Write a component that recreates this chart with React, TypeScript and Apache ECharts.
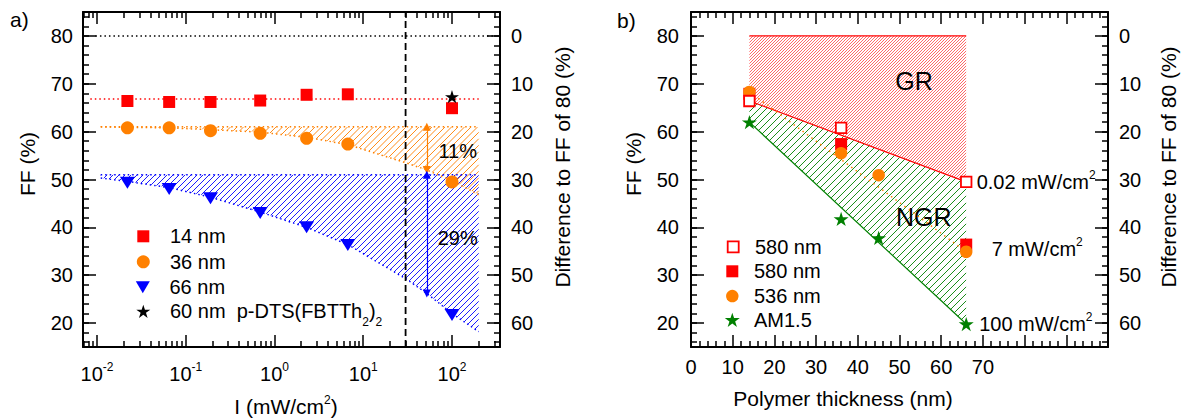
import React, { useEffect, useRef } from 'react';
import * as echarts from 'echarts';

const FONT = 'Liberation Sans';
const RED = '#ff0000';
const ORANGE = '#ff8000';
const BLUE = '#0000ff';
const GREEN = '#008000';

// ---------- panel a: fill factor vs. light intensity ----------
const intensity = [0.022, 0.065, 0.19, 0.69, 2.3, 6.7, 100];
const ff14nm = [66.4, 66.2, 66.2, 66.5, 67.7, 67.8, 64.9];
const ff36nm = [60.8, 60.8, 60.2, 59.65, 58.6, 57.4, 49.5];
const ff66nm = [49.3, 48.0, 46.1, 43.0, 40.0, 36.3, 21.7];
const smallMoleculeI = [100];
const smallMoleculeFF = [67.3];

// dotted trend curves bounding the hatched losses
const trendI = [0.011, 0.022, 0.065, 0.19, 0.69, 2.3, 6.7, 30, 52, 100, 200];
const trend36nm = [61.0, 60.9, 60.8, 60.4, 59.9, 58.8, 57.3, 53.5, 52.0, 49.7, 46.8];
const trend66nm = [50.3, 49.6, 48.3, 46.3, 43.2, 40.0, 36.4, 29.3, 26.2, 22.0, 18.2];

const ffLimit = 80;
const level14nm = 66.8;
const level36nm = 61;
const level66nm = 51;
const iThreshold = 30;
const iArrow = 52;
const arrowLow36nm = 52.0;
const arrowLow66nm = 26.2;

// ---------- panel b: fill factor vs. polymer thickness ----------
const thickness = [14, 36, 66];
const ff580Low = [66.4, 60.8, 49.5]; // 580 nm, 0.02 mW/cm²
const ff580Mid = [67.9, 57.4, 36.4]; // 580 nm, 7 mW/cm²
const thickness4 = [14, 36, 45, 66];
const ff536 = [68.3, 55.5, 50.9, 34.9];
const ffAM15 = [62.0, 41.75, 37.8, 19.8];

// axis extents
const I_MIN = Math.pow(10, -2.158);
const I_MAX = Math.pow(10, 2.541);
const FF_MIN = 15;
const FF_MAX = 85;
const T_MIN = 0;
const T_MAX = 100;

// plot frame geometry (pixels)
const LEFT_A = 83;
const LEFT_B = 691;
const TOP = 12;
const GRID_W = 417;
const GRID_H = 335;
const PX_PER_DECADE = GRID_W / (Math.log10(I_MAX) - Math.log10(I_MIN));
const PX_PER_FF = GRID_H / (FF_MAX - FF_MIN);

const STAR = 'path://M50,0L61.2,34.5L97.6,34.5L68.2,55.9L79.4,90.5L50,69.1L20.6,90.5L31.8,55.9L2.4,34.5L38.8,34.5Z';
const TRI_DOWN = 'path://M0,0L14,0L7,12Z';

const pairs = (xs: number[], ys: number[]) => xs.map((x, i) => [x, ys[i]]);

type Pt = number[];

function interpAt(pts: Pt[], px: number): number {
  const n = pts.length;
  for (let i = 1; i < n; i++) {
    if (px <= pts[i][0] + 1e-9) {
      const [x0, y0] = pts[i - 1];
      const [x1, y1] = pts[i];
      const t = x1 === x0 ? 0 : (px - x0) / (x1 - x0);
      return y0 + t * (y1 - y0);
    }
  }
  return pts[n - 1][1];
}

// diagonal "/" hatch segments between a top and a bottom pixel boundary
function hatchLines(top: Pt[], bottom: Pt[], spacing: number): number[][] {
  const x0 = Math.max(top[0][0], bottom[0][0]);
  const x1 = Math.min(top[top.length - 1][0], bottom[bottom.length - 1][0]);
  const sums = [...top, ...bottom].map((p) => p[0] + p[1]);
  const cMin = Math.floor(Math.min(...sums) / spacing) * spacing;
  const cMax = Math.max(...sums);
  const step = 0.25;
  const segs: number[][] = [];
  for (let c = cMin; c <= cMax; c += spacing) {
    let run: number[] | null = null;
    for (let px = x0; px <= x1 + 1e-9; px += step) {
      const y = c - px;
      const yt = interpAt(top, px);
      const yb = interpAt(bottom, px);
      if (y >= yt && y <= yb) {
        if (run) {
          run[2] = px;
          run[3] = y;
        } else run = [px, y, px, y];
      } else if (run) {
        segs.push(run);
        run = null;
      }
    }
    if (run) segs.push(run);
  }
  return segs.filter((s) => Math.abs(s[2] - s[0]) > 0.3);
}

type Hatch = { top: Pt[]; bottom: Pt[]; spacing: number; color: string; width: number };
type Note = { at: number[]; text: string; size: number; align: string };

const SUP_RICH = {
  n: { fontFamily: FONT, fontSize: 20, lineHeight: 26, color: '#000' },
  sup: { fontFamily: FONT, fontSize: 12, lineHeight: 12, verticalAlign: 'top', color: '#000' },
};

// custom layer per panel: hatched regions and annotations
function panelLayer(name: string, xi: number, yi: number, hatches: Hatch[], notes: Note[], anchor: number[]) {
  return {
    type: 'custom',
    name,
    xAxisIndex: xi,
    yAxisIndex: yi,
    z: 1,
    silent: true,
    clip: false,
    data: [anchor],
    renderItem: (_p: any, api: any) => {
      const children: any[] = [];
      for (const h of hatches) {
        const t = h.top.map((p) => api.coord(p));
        const b = h.bottom.map((p) => api.coord(p));
        for (const s of hatchLines(t, b, h.spacing)) {
          children.push({
            type: 'line',
            shape: { x1: s[0], y1: s[1], x2: s[2], y2: s[3] },
            style: { stroke: h.color, lineWidth: h.width },
          });
        }
      }
      for (const n of notes) {
        const [x, y] = api.coord(n.at);
        children.push({
          type: 'text',
          x,
          y,
          style: {
            text: n.text,
            fontFamily: FONT,
            fontSize: n.size,
            fill: '#000',
            align: n.align,
            verticalAlign: 'middle',
            rich: SUP_RICH,
          },
        });
      }
      return { type: 'group', children };
    },
  };
}

function legendItem(name: string, cx: number, cy: number, textX: number, w: number, h: number, extra: any = {}) {
  return {
    data: [name],
    orient: 'vertical',
    left: cx - w / 2,
    top: cy - h / 2,
    padding: 0,
    itemWidth: w,
    itemHeight: h,
    selectedMode: false,
    textStyle: {
      fontFamily: FONT,
      fontSize: 20,
      color: '#000',
      padding: [0, 0, 0, textX - (cx + w / 2 + 5)],
      ...(extra.textStyle || {}),
    },
    ...extra.rest,
  };
}

const powerLabel = (v: number) => {
  const e = Math.log10(v);
  const r = Math.round(e);
  return Math.abs(e - r) < 1e-6 ? `{b|10}{s|${r}}` : '';
};

const tenLabel = (lo: number, hi: number) => (v: number) =>
  Math.abs(v % 10) < 1e-9 && v >= lo && v <= hi ? String(Math.round(v)) : '';

const axisLine = { show: true, onZero: false, lineStyle: { color: '#000', width: 2 } };
const labelBase = { color: '#000', fontFamily: FONT, fontSize: 20 };
const tickStyle = (len: number) => ({ show: true, inside: true, length: len, lineStyle: { color: '#000', width: 1.5 } });

function buildOption(): any {
  const xLog = (pos: string, labels: boolean) => ({
    type: 'log',
    gridIndex: 0,
    logBase: 10,
    min: I_MIN,
    max: I_MAX,
    position: pos,
    axisLine,
    axisTick: { show: false },
    minorTick: { show: false },
    splitLine: { show: false },
    axisLabel: labels
      ? {
          ...labelBase,
          margin: 14,
          interval: 0,
          formatter: powerLabel,
          rich: {
            b: { fontFamily: FONT, fontSize: 20, lineHeight: 26, color: '#000' },
            s: { fontFamily: FONT, fontSize: 12, lineHeight: 12, verticalAlign: 'top', color: '#000' },
          },
        }
      : { show: false },
  });

  const xThick = (pos: string, labels: boolean) => ({
    type: 'value',
    gridIndex: 1,
    min: T_MIN,
    max: T_MAX,
    interval: 10,
    position: pos,
    axisLine,
    axisTick: tickStyle(12),
    minorTick: { show: true, splitNumber: 5, length: 6, lineStyle: { color: '#000', width: 1.5 } },
    splitLine: { show: false },
    minorSplitLine: { show: false },
    axisLabel: labels ? { ...labelBase, margin: 10, formatter: (v: number) => (v <= 70 ? String(v) : '') } : { show: false },
  });

  const yFF = (grid: number, margin: number) => ({
    type: 'value',
    gridIndex: grid,
    min: FF_MIN,
    max: FF_MAX,
    splitNumber: 7,
    position: 'left',
    axisLine,
    axisTick: { show: false },
    splitLine: { show: false },
    axisLabel: { ...labelBase, margin, formatter: tenLabel(20, 80) },
  });

  const yDiff = (grid: number) => ({
    type: 'value',
    gridIndex: grid,
    min: ffLimit - FF_MAX,
    max: ffLimit - FF_MIN,
    inverse: true,
    splitNumber: 7,
    position: 'right',
    axisLine,
    axisTick: { show: false },
    splitLine: { show: false },
    axisLabel: { ...labelBase, margin: 11, formatter: tenLabel(0, 60) },
  });

  const grids: any[] = [
    { left: LEFT_A, top: TOP, width: GRID_W, height: GRID_H, outerBoundsMode: 'none' },
    { left: LEFT_B, top: TOP, width: GRID_W, height: GRID_H, outerBoundsMode: 'none' },
  ];
  const xAxes: any[] = [xLog('bottom', true), xLog('top', false), xThick('bottom', true), xThick('top', false)];
  const yAxes: any[] = [yFF(0, 10), yDiff(0), yFF(1, 12), yDiff(1)];

  // Frame ticks come from tick-only axes on overlay grids whose edges sit on the tick values,
  // so every tick is an ordinary axis tick counted from a whole-number minimum.
  const hiddenAxis = (gridIndex: number) => ({ type: 'value', gridIndex, show: false, min: 0, max: 1 });
  const pyFF = (ff: number) => TOP + (FF_MAX - ff) * PX_PER_FF;
  const pxI = (v: number) => LEFT_A + (Math.log10(v) - Math.log10(I_MIN)) * PX_PER_DECADE;

  const addFFTicks = (left: number, from: number, to: number, step: number, len: number) => {
    const gi = grids.length;
    grids.push({ left, top: pyFF(to), width: GRID_W, height: (to - from) * PX_PER_FF, outerBoundsMode: 'none' });
    xAxes.push(hiddenAxis(gi));
    for (const pos of ['left', 'right']) {
      yAxes.push({
        type: 'value',
        gridIndex: gi,
        position: pos,
        min: from,
        max: to,
        interval: step,
        axisLine: { show: false },
        axisTick: tickStyle(len),
        axisLabel: { show: false },
        splitLine: { show: false },
      });
    }
  };

  // decade ladders: m·10^k for a fixed mantissa m
  const addDecadeTicks = (first: number, count: number, len: number) => {
    const gi = grids.length;
    grids.push({ left: pxI(first), top: TOP, width: (count - 1) * PX_PER_DECADE, height: GRID_H, outerBoundsMode: 'none' });
    yAxes.push(hiddenAxis(gi));
    for (const pos of ['bottom', 'top']) {
      xAxes.push({
        type: 'value',
        gridIndex: gi,
        position: pos,
        min: 0,
        max: count - 1,
        interval: 1,
        axisLine: { show: false },
        axisTick: tickStyle(len),
        axisLabel: { show: false },
        splitLine: { show: false },
      });
    }
  };

  for (const left of [LEFT_A, LEFT_B]) {
    addFFTicks(left, 16, 84, 2, 6);
    addFFTicks(left, 20, 80, 10, 13);
  }
  for (let m = 1; m <= 9; m++) {
    let first = m * 0.001;
    while (first <= I_MIN) first *= 10;
    let count = 0;
    while (first * Math.pow(10, count) < I_MAX) count++;
    if (count >= 2) addDecadeTicks(first, count, m === 1 ? 12 : 6);
  }

  const lineBase = { type: 'line', symbol: 'none', silent: true, z: 2 };
  const solid = { opacity: 1 };
  const titleStyle = { fontFamily: FONT, fontSize: 21, fill: '#000', align: 'center', verticalAlign: 'middle' };

  const lastI = trendI[trendI.length - 1];
  const lowLine = [[thickness[0], ff580Low[0]], [thickness[2], ff580Low[2]]];
  const amLine = [[thickness4[0], ffAM15[0]], [thickness4[3], ffAM15[3]]];

  return {
    animation: false,
    backgroundColor: '#fff',
    textStyle: { fontFamily: FONT, color: '#000' },
    grid: grids,
    xAxis: xAxes,
    yAxis: yAxes,
    legend: [
      legendItem('14 nm', 143.3, 232.3, 170, 12, 12),
      legendItem('36 nm', 143.3, 258.3, 170, 13, 13),
      legendItem('66 nm', 143.3, 283.3, 170, 15, 12),
      legendItem('60 nm p-DTS(FBTTh2)2', 143.3, 308.3, 170, 14, 14, {
        textStyle: {
          rich: {
            n: { fontFamily: FONT, fontSize: 20, lineHeight: 34, color: '#000' },
            sub: { fontFamily: FONT, fontSize: 12, lineHeight: 12, verticalAlign: 'bottom', color: '#000' },
          },
        },
        rest: { formatter: () => '{n|60 nm  p-DTS(FBTTh}{sub|2}{n|)}{sub|2}' },
      }),
      legendItem('580 nm, 0.02 mW/cm²', 732.3, 242.3, 754, 11, 11, {
        rest: {
          formatter: () => '580 nm',
          itemStyle: { color: '#fff', borderColor: RED, borderWidth: 1.8, opacity: 1 },
        },
      }),
      legendItem('580 nm, 7 mW/cm²', 732.3, 267.3, 754, 12, 12, { rest: { formatter: () => '580 nm' } }),
      legendItem('536 nm', 732.3, 292.3, 754, 12.5, 12.5),
      legendItem('AM1.5', 732.3, 317.3, 754, 15, 15),
    ],
    graphic: [
      { type: 'text', x: 10, y: 19.5, style: { ...titleStyle, text: 'a)', align: 'left' } },
      { type: 'text', x: 617, y: 20.5, style: { ...titleStyle, text: 'b)', align: 'left' } },
      { type: 'text', x: 27.5, y: 164, rotation: Math.PI / 2, style: { ...titleStyle, text: 'FF (%)' } },
      { type: 'text', x: 562, y: 167, rotation: Math.PI / 2, style: { ...titleStyle, text: 'Difference to FF of 80 (%)' } },
      { type: 'text', x: 633, y: 164, rotation: Math.PI / 2, style: { ...titleStyle, text: 'FF (%)' } },
      { type: 'text', x: 1168, y: 167, rotation: Math.PI / 2, style: { ...titleStyle, text: 'Difference to FF of 80 (%)' } },
      {
        type: 'text',
        x: 286,
        y: 406.5,
        style: {
          ...titleStyle,
          text: '{n|I (mW/cm}{sup|2}{n|)}',
          rich: {
            n: { fontFamily: FONT, fontSize: 21, lineHeight: 26, color: '#000' },
            sup: { fontFamily: FONT, fontSize: 12, lineHeight: 12, verticalAlign: 'top', color: '#000' },
          },
        },
      },
      { type: 'text', x: 843, y: 398.5, style: { ...titleStyle, text: 'Polymer thickness (nm)' } },
    ],
    series: [
      // ----- panel a -----
      panelLayer(
        'intensity layer',
        0,
        0,
        [
          { top: [[trendI[0], level36nm], [lastI, level36nm]], bottom: pairs(trendI, trend36nm), spacing: 6.5, color: ORANGE, width: 0.9 },
          { top: [[trendI[0], level66nm], [lastI, level66nm]], bottom: pairs(trendI, trend66nm), spacing: 6, color: BLUE, width: 0.9 },
        ],
        [
          { at: [116, 56.0], text: '11%', size: 20, align: 'center' },
          { at: [116, 37.8], text: '29%', size: 20, align: 'center' },
        ],
        [1, 50]
      ),
      {
        ...lineBase,
        xAxisIndex: 0,
        yAxisIndex: 0,
        data: [[0.0096, ffLimit], [290, ffLimit]],
        lineStyle: { color: '#000', width: 1.5, type: [1.5, 3] },
      },
      {
        ...lineBase,
        xAxisIndex: 0,
        yAxisIndex: 0,
        data: [[0.0084, level14nm], [200, level14nm]],
        lineStyle: { color: RED, width: 1.5, type: [1.5, 3] },
      },
      {
        ...lineBase,
        xAxisIndex: 0,
        yAxisIndex: 0,
        data: [[trendI[0], level36nm], [lastI, level36nm]],
        lineStyle: { color: ORANGE, width: 1.5, type: [1.5, 3] },
      },
      {
        ...lineBase,
        xAxisIndex: 0,
        yAxisIndex: 0,
        data: pairs(trendI, trend36nm),
        lineStyle: { color: ORANGE, width: 1.5, type: [1.5, 3] },
        markLine: {
          silent: true,
          symbol: ['triangle', 'triangle'],
          symbolSize: 8,
          label: { show: false },
          lineStyle: { color: ORANGE, width: 1.2, type: 'solid' },
          data: [[{ coord: [iArrow, level36nm] }, { coord: [iArrow, arrowLow36nm] }]],
        },
      },
      {
        ...lineBase,
        xAxisIndex: 0,
        yAxisIndex: 0,
        data: [[trendI[0], level66nm], [lastI, level66nm]],
        lineStyle: { color: BLUE, width: 1.5, type: [1.5, 3] },
      },
      {
        ...lineBase,
        xAxisIndex: 0,
        yAxisIndex: 0,
        data: pairs(trendI, trend66nm),
        lineStyle: { color: BLUE, width: 1.5, type: [1.5, 3] },
        markLine: {
          silent: true,
          symbol: ['triangle', 'triangle'],
          symbolSize: 8,
          label: { show: false },
          lineStyle: { color: BLUE, width: 1.2, type: 'solid' },
          data: [[{ coord: [iArrow, level66nm] }, { coord: [iArrow, arrowLow66nm] }]],
        },
      },
      {
        ...lineBase,
        xAxisIndex: 0,
        yAxisIndex: 0,
        data: [[iThreshold, FF_MIN], [iThreshold, FF_MAX]],
        lineStyle: { color: '#000', width: 1.8, type: [7, 4] },
      },
      {
        type: 'scatter',
        name: '14 nm',
        xAxisIndex: 0,
        yAxisIndex: 0,
        z: 3,
        symbol: 'rect',
        symbolSize: 12,
        itemStyle: { color: RED, ...solid },
        data: pairs(intensity, ff14nm),
      },
      {
        type: 'scatter',
        name: '36 nm',
        xAxisIndex: 0,
        yAxisIndex: 0,
        z: 3,
        symbol: 'circle',
        symbolSize: 13,
        itemStyle: { color: ORANGE, ...solid },
        data: pairs(intensity, ff36nm),
      },
      {
        type: 'scatter',
        name: '66 nm',
        xAxisIndex: 0,
        yAxisIndex: 0,
        z: 3,
        symbol: TRI_DOWN,
        symbolSize: [15, 12],
        itemStyle: { color: BLUE, ...solid },
        data: pairs(intensity, ff66nm),
      },
      {
        type: 'scatter',
        name: '60 nm p-DTS(FBTTh2)2',
        xAxisIndex: 0,
        yAxisIndex: 0,
        z: 4,
        symbol: STAR,
        symbolKeepAspect: true,
        symbolSize: 14,
        itemStyle: { color: '#000', ...solid },
        data: pairs(smallMoleculeI, smallMoleculeFF),
      },

      // ----- panel b -----
      panelLayer(
        'thickness layer',
        2,
        2,
        [
          { top: [[thickness[0], ffLimit], [thickness[2], ffLimit]], bottom: lowLine, spacing: 3, color: RED, width: 0.6 },
          { top: lowLine, bottom: amLine, spacing: 7, color: GREEN, width: 0.9 },
        ],
        [
          { at: [53.5, 70.6], text: 'GR', size: 25, align: 'center' },
          { at: [55.8, 42.1], text: 'NGR', size: 25, align: 'center' },
          { at: [68.5, ff580Low[2]], text: '{n|0.02 mW/cm}{sup|2}', size: 20, align: 'left' },
          { at: [72.1, 35.4], text: '{n|7 mW/cm}{sup|2}', size: 20, align: 'left' },
          { at: [69.1, ffAM15[3]], text: '{n|100 mW/cm}{sup|2}', size: 20, align: 'left' },
        ],
        [50, 50]
      ),
      {
        ...lineBase,
        xAxisIndex: 2,
        yAxisIndex: 2,
        data: [[thickness[0], ffLimit], [thickness[2], ffLimit]],
        lineStyle: { color: RED, width: 1.2 },
      },
      {
        ...lineBase,
        xAxisIndex: 2,
        yAxisIndex: 2,
        data: lowLine,
        lineStyle: { color: RED, width: 1.2 },
      },
      {
        ...lineBase,
        xAxisIndex: 2,
        yAxisIndex: 2,
        data: amLine,
        lineStyle: { color: GREEN, width: 1.2 },
      },
      {
        ...lineBase,
        xAxisIndex: 2,
        yAxisIndex: 2,
        data: [[thickness4[0], ff536[0]], [thickness4[3], ff536[3]]],
        lineStyle: { color: ORANGE, width: 1.5, type: [1.5, 4] },
      },
      {
        type: 'scatter',
        name: '580 nm, 7 mW/cm²',
        xAxisIndex: 2,
        yAxisIndex: 2,
        z: 3,
        symbol: 'rect',
        symbolSize: 12,
        itemStyle: { color: RED, ...solid },
        data: pairs(thickness, ff580Mid),
      },
      {
        type: 'scatter',
        name: '536 nm',
        xAxisIndex: 2,
        yAxisIndex: 2,
        z: 3,
        symbol: 'circle',
        symbolSize: 12.5,
        itemStyle: { color: ORANGE, ...solid },
        data: pairs(thickness4, ff536),
      },
      {
        type: 'scatter',
        name: '580 nm, 0.02 mW/cm²',
        xAxisIndex: 2,
        yAxisIndex: 2,
        z: 4,
        symbol: 'rect',
        symbolSize: 10.5,
        itemStyle: { color: '#fff', borderColor: RED, borderWidth: 1.8, ...solid },
        data: pairs(thickness, ff580Low),
      },
      {
        type: 'scatter',
        name: 'AM1.5',
        xAxisIndex: 2,
        yAxisIndex: 2,
        z: 4,
        symbol: STAR,
        symbolKeepAspect: true,
        symbolSize: 15,
        itemStyle: { color: GREEN, ...solid },
        data: pairs(thickness4, ffAM15),
      },
    ],
  };
}

export default function App() {
  const ref = useRef<HTMLDivElement>(null);
  useEffect(() => {
    if (!ref.current) return;
    const chart = echarts.init(ref.current, undefined, { renderer: 'svg' });
    chart.setOption(buildOption());
    return () => chart.dispose();
  }, []);
  return (
    <div
      ref={ref}
      style={{ position: 'fixed', left: 0, top: 0, width: 1184, height: 419, background: '#fff' }}
    />
  );
}
